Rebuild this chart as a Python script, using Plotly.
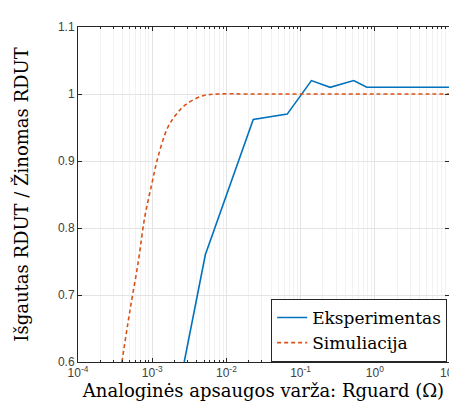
import plotly.graph_objects as go

# Experimental data (Rguard in ohms, ratio)
exp_r = [0.0027, 0.0052, 0.023, 0.066, 0.14, 0.25, 0.52, 0.78, 10.0]
exp_ratio = [0.60, 0.76, 0.962, 0.970, 1.020, 1.010, 1.020, 1.010, 1.010]

# Simulation data
sim_r = [0.00039, 0.00050, 0.00065, 0.00079, 0.00098, 0.00119, 0.00162,
         0.00209, 0.00282, 0.00468, 0.0078, 0.02, 0.1, 1.0, 10.0]
sim_ratio = [0.60, 0.676, 0.75, 0.815, 0.864, 0.905, 0.95,
             0.969, 0.984, 0.997, 1.0, 1.0, 1.0, 1.0, 1.0]

x_tickvals = [1e-4, 1e-3, 1e-2, 1e-1, 1e0, 1e1]
x_ticktext = ["10<sup>-4</sup>", "10<sup>-3</sup>", "10<sup>-2</sup>",
              "10<sup>-1</sup>", "10<sup>0</sup>", "10<sup>1</sup>"]
y_tickvals = [0.6, 0.7, 0.8, 0.9, 1.0, 1.1]
y_ticktext = ["0.6", "0.7", "0.8", "0.9", "1", "1.1"]

fig = go.Figure()
fig.add_trace(go.Scatter(x=exp_r, y=exp_ratio, mode="lines", name="Eksperimentas",
                         line=dict(color="#0072BD", width=1.6)))
fig.add_trace(go.Scatter(x=sim_r, y=sim_ratio, mode="lines", name="Simuliacija",
                         line=dict(color="#D95319", width=1.6, dash="4px,3px", shape="spline")))

serif = "DejaVu Serif, Liberation Serif, serif"
sans = "Liberation Sans"

fig.update_layout(
    width=457, height=405,
    margin=dict(l=70, r=7, t=19, b=51),
    paper_bgcolor="white", plot_bgcolor="white",
    showlegend=True,
    legend=dict(x=0.995, y=0.0, xanchor="right", yanchor="bottom",
                bgcolor="white", bordercolor="#262626", borderwidth=1,
                font=dict(family=serif, size=17, color="black"),
                tracegroupgap=0, itemwidth=30),
    xaxis=dict(type="log", range=[-4, 1], tickvals=x_tickvals, ticktext=x_ticktext,
               ticklabeloverflow="allow",
               tickfont=dict(family=sans, size=12, color="#404040"),
               title=dict(text="Analoginės apsaugos varža: Rguard (Ω)",
                          font=dict(family=serif, size=18, color="black"), standoff=4),
               showline=True, linecolor="#262626", linewidth=1, mirror="ticks",
               ticks="inside", ticklen=4, tickcolor="#262626",
               showgrid=True, gridcolor="#e4e4e4", gridwidth=1,
               minor=dict(dtick="D1", showgrid=True, gridcolor="#f2f2f2",
                          ticks="inside", ticklen=2, tickcolor="#262626"),
               zeroline=False),
    yaxis=dict(range=[0.6, 1.1], tickvals=y_tickvals, ticktext=y_ticktext,
               tickfont=dict(family=sans, size=12, color="#404040"),
               title=dict(text="Išgautas RDUT / Žinomas RDUT",
                          font=dict(family=serif, size=18, color="black"), standoff=24),
               showline=True, linecolor="#262626", linewidth=1, mirror="ticks",
               ticks="inside", ticklen=4, tickcolor="#262626",
               showgrid=True, gridcolor="#e4e4e4", gridwidth=1,
               zeroline=False),
)

fig.write_html("out.html")
